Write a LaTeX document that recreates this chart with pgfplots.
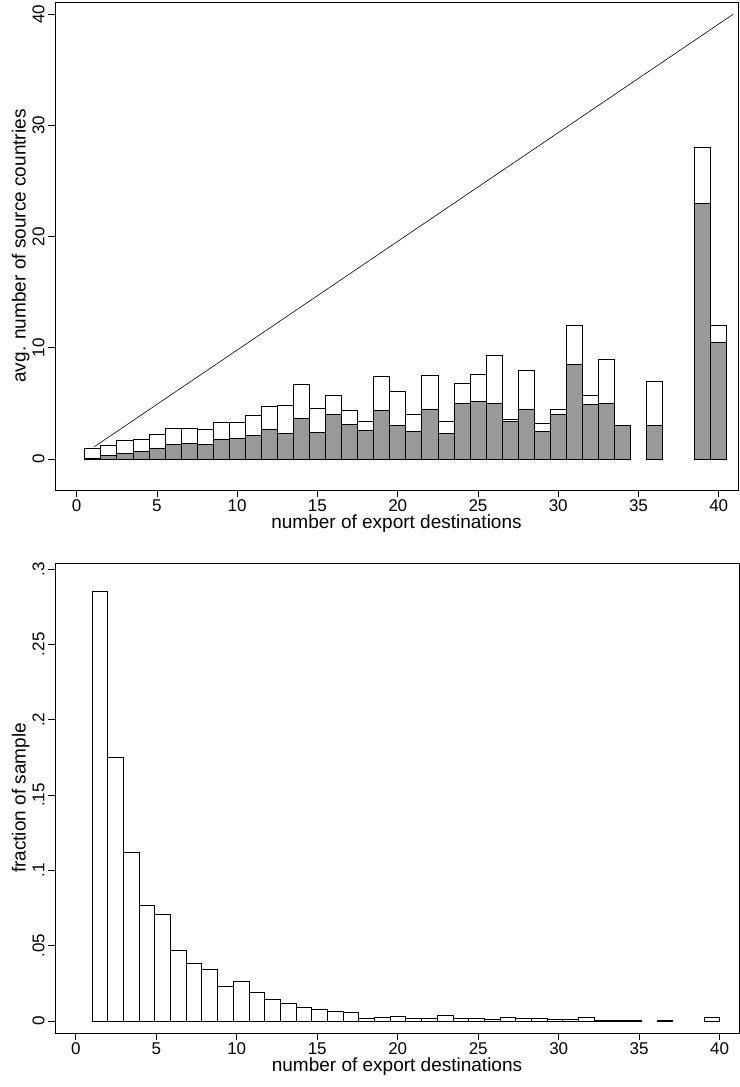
\documentclass[border=0pt]{standalone}
\usepackage{pgfplots}
\pgfplotsset{compat=1.18}
\usepackage{fontspec}
\setmainfont{Liberation Sans}
\definecolor{bargray}{HTML}{999999}
\begin{document}
\begin{tikzpicture}
\pgfplotsset{every axis/.append style={
  scale only axis, axis line style={line width=0.8pt}, tick align=outside,
  xtick pos=left, ytick pos=left, major tick length=7pt,
  tick style={black,line width=0.7pt},
  tick label style={font=\fontsize{17}{17}\selectfont},
  label style={font=\fontsize{19}{19}\selectfont},
  yticklabel style={rotate=90,anchor=south},
  xticklabel style={yshift=1pt},
  /pgf/number format/assume math mode=true,
  xtick={0,5,...,40},
}}
\begin{axis}[at={(55pt,-490pt)},anchor=south west,width=683pt,height=488pt,
  xmin=-1.35,xmax=41.2,ymin=-2.79,ymax=41.1,
  ytick={0,10,20,30,40},
  xlabel={number of export destinations},
  ylabel={avg. number of source countries},
  xlabel style={yshift=4pt}, ylabel style={yshift=-4pt}]
\addplot[ybar,bar width=1,bar shift=0pt,draw=black,fill=white,line width=0.6pt] coordinates {
(1,1.0)(2,1.2)(3,1.7)(4,1.8)(5,2.2)(6,2.8)(7,2.8)(8,2.7)(9,3.3)(10,3.3)
(11,3.9)(12,4.7)(13,4.8)(14,6.7)(15,4.6)(16,5.7)(17,4.4)(18,3.4)(19,7.4)(20,6.1)
(21,4.0)(22,7.5)(23,3.4)(24,6.8)(25,7.6)(26,9.3)(27,3.6)(28,8.0)(29,3.2)(30,4.5)
(31,12.0)(32,5.7)(33,9.0)(34,3.0)(36,7.0)(39,28.0)(40,12.0)};
\addplot[ybar,bar width=1,bar shift=0pt,draw=black,fill=bargray,line width=0.6pt] coordinates {
(1,0.1)(2,0.3)(3,0.5)(4,0.7)(5,1.0)(6,1.3)(7,1.4)(8,1.3)(9,1.8)(10,1.9)
(11,2.1)(12,2.7)(13,2.3)(14,3.7)(15,2.4)(16,4.0)(17,3.1)(18,2.6)(19,4.4)(20,3.0)
(21,2.5)(22,4.5)(23,2.3)(24,5.0)(25,5.2)(26,5.0)(27,3.4)(28,4.5)(29,2.5)(30,4.0)
(31,8.5)(32,4.9)(33,5.0)(34,3.0)(36,3.0)(39,23.0)(40,10.5)};
\addplot[black,line width=0.6pt] coordinates {(1.1,1.1)(40.9,40)};
\end{axis}
\begin{axis}[at={(55pt,-1033pt)},anchor=south west,width=684pt,height=470pt,
  xmin=-1.29,xmax=41.2,ymin=-0.008,ymax=0.304,
  ytick={0,0.05,0.1,0.15,0.2,0.25,0.3},
  yticklabels={0,.05,.1,.15,.2,.25,.3},
  xlabel={number of export destinations},
  ylabel={fraction of sample},
  xlabel style={yshift=4pt}, ylabel style={yshift=-4pt}]
\addplot[ybar,bar width=0.975,bar shift=0pt,draw=black,fill=white,line width=0.6pt] coordinates {
(1.4875,.285)(2.4625,.175)(3.4375,.112)(4.4125,.077)(5.3875,.071)(6.3625,.047)(7.3375,.038)(8.3125,.034)(9.2875,.023)(10.2625,.026)
(11.2375,.019)(12.2125,.0145)(13.1875,.012)(14.1625,.009)(15.1375,.0078)(16.1125,.0065)(17.0875,.006)(18.0625,.002)(19.0375,.0025)(20.0125,.003)
(20.9875,.0015)(21.9625,.0015)(22.9375,.0035)(23.9125,.002)(24.8875,.002)(25.8625,.001)(26.8375,.0025)(27.8125,.0017)(28.7875,.0017)(29.7625,.0008)
(30.7375,.0008)(31.7125,.0027)(32.6875,.0003)(33.6625,.0003)(34.6375,.0003)(36.5875,.0003)(39.5125,.0027)};
\end{axis}
\pgfresetboundingbox
\path (0,0) rectangle (739pt,-1087pt);
\end{tikzpicture}
\end{document}
